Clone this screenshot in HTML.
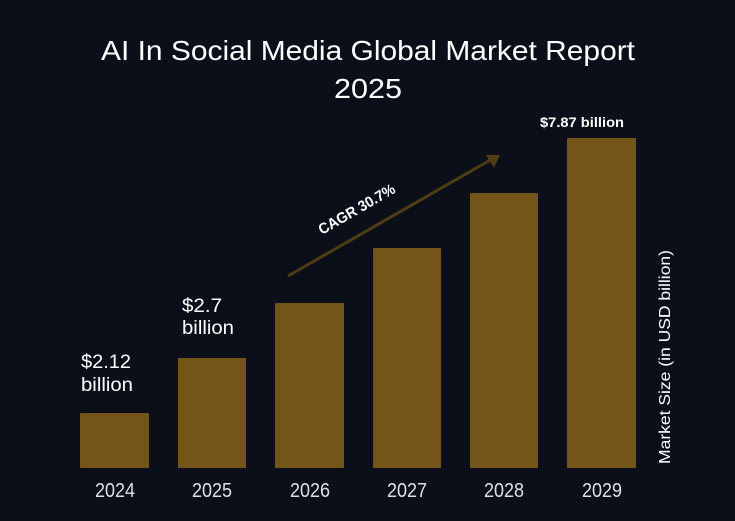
<!DOCTYPE html>
<html><head><style>html,body{margin:0;padding:0;background:#0b0f1a;}svg{display:block}</style></head>
<body>
<svg width="735" height="521" xmlns="http://www.w3.org/2000/svg" font-family="'Liberation Sans', sans-serif">
<rect width="735" height="521" fill="#0b0f1a"/>
<text x="368" y="60" fill="#fff" font-size="28" text-anchor="middle" textLength="534" lengthAdjust="spacingAndGlyphs">AI In Social Media Global Market Report</text>
<text x="368" y="98" fill="#fff" font-size="28" text-anchor="middle" textLength="68" lengthAdjust="spacingAndGlyphs">2025</text>
<g fill="#735518">
<rect x="80" y="413" width="69" height="55" rx="1"/>
<rect x="178" y="358" width="68" height="110" rx="1"/>
<rect x="275" y="303" width="69" height="165" rx="1"/>
<rect x="373" y="248" width="68" height="220" rx="1"/>
<rect x="470" y="193" width="68" height="275" rx="1"/>
<rect x="567" y="138" width="69" height="330" rx="1"/>
</g>
<g fill="#e0e0e0" font-size="20" text-anchor="middle">
<text x="115" y="497" textLength="40" lengthAdjust="spacingAndGlyphs">2024</text>
<text x="212" y="497" textLength="40" lengthAdjust="spacingAndGlyphs">2025</text>
<text x="310" y="497" textLength="40" lengthAdjust="spacingAndGlyphs">2026</text>
<text x="407" y="497" textLength="40" lengthAdjust="spacingAndGlyphs">2027</text>
<text x="504" y="497" textLength="40" lengthAdjust="spacingAndGlyphs">2028</text>
<text x="602" y="497" textLength="40" lengthAdjust="spacingAndGlyphs">2029</text>
</g>
<g fill="#fff" font-size="19">
<text x="81" y="368" textLength="50" lengthAdjust="spacingAndGlyphs">$2.12</text>
<text x="81" y="391" textLength="52" lengthAdjust="spacingAndGlyphs">billion</text>
<text x="182" y="312" textLength="40" lengthAdjust="spacingAndGlyphs">$2.7</text>
<text x="182" y="334" textLength="52" lengthAdjust="spacingAndGlyphs">billion</text>
</g>
<text x="540" y="127" fill="#fff" font-size="14" font-weight="bold" textLength="84" lengthAdjust="spacingAndGlyphs">$7.87 billion</text>
<line x1="288" y1="276" x2="492" y2="159" stroke="#4f3d12" stroke-width="3"/>
<polygon points="500,155 486,155 494,168" fill="#4f3d12"/>
<text x="0" y="0" fill="#fff" font-size="15" font-weight="bold" transform="translate(322,235) rotate(-30)" textLength="86" lengthAdjust="spacingAndGlyphs">CAGR 30.7%</text>
<text x="0" y="0" fill="#fff" font-size="16" transform="translate(670,464) rotate(-90)" textLength="214" lengthAdjust="spacingAndGlyphs">Market Size (in USD billion)</text>
</svg>
</body></html>
